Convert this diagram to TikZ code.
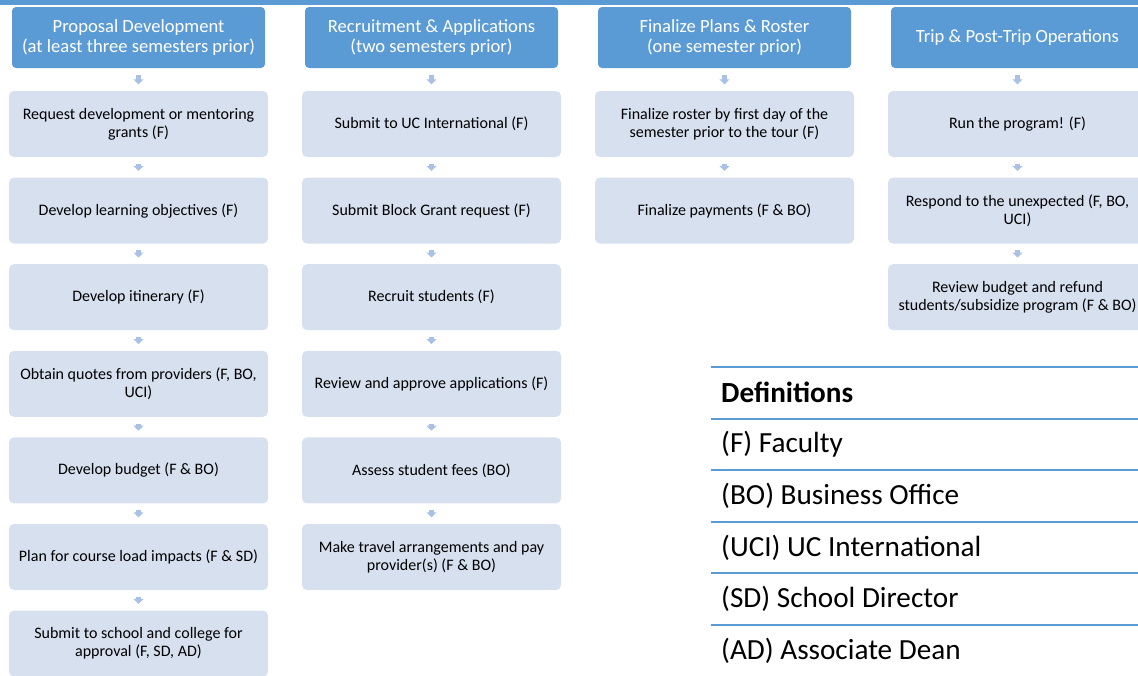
\documentclass[tikz,border=0pt]{standalone}
\usepackage{fontspec}
\setmainfont{Carlito}
\usetikzlibrary{arrows.meta}
\definecolor{hdrBlue}{RGB}{91,155,213}
\definecolor{stepFill}{RGB}{214,224,239}
\definecolor{arrowBlue}{RGB}{168,193,228}

\tikzset{
  hdr/.style={fill=hdrBlue, rounded corners=4pt, minimum width=253pt, minimum height=61pt,
    inner sep=0pt, align=center, text=white, font=\fontsize{18.6}{20.5}\selectfont},
  stepbox/.style={fill=stepFill, rounded corners=5pt, minimum width=259pt, minimum height=66pt,
    inner sep=0pt, align=center, font=\fontsize{16}{18}\selectfont},
  flow/.style={arrowBlue, line width=5pt, -{Triangle[width=10pt,length=5pt]},
    shorten <=6.5pt, shorten >=6.5pt},
  defline/.style={hdrBlue, line width=2pt},
  deftext/.style={anchor=west, inner sep=0pt, font=\fontsize{29.2}{33}\selectfont}
}

\begin{document}
\begin{tikzpicture}[x=1pt, y=-1pt]
  \clip (0,0) rectangle (1138,675);
  \fill[hdrBlue] (0,0) rectangle (1138,4.5);

  % column headers
  \node[hdr] (h1) at (138.5,37.5) {Proposal Development\\(at least three semesters prior)};
  \node[hdr] (h2) at (431.5,37.5) {Recruitment \& Applications\\(two semesters prior)};
  \node[hdr] (h3) at (724.5,37.5) {Finalize Plans \& Roster\\(one semester prior)};
  \node[hdr] (h4) at (1017.5,37.5) {Trip \& Post-Trip Operations};

  % steps, one column at a time
  \foreach \txt [count=\i] in {
      {Request development or mentoring\\grants (F)},
      {Develop learning objectives (F)},
      {Develop itinerary (F)},
      {Obtain quotes from providers (F, BO,\\UCI)},
      {Develop budget (F \& BO)},
      {Plan for course load impacts (F \& SD)},
      {Submit to school and college for\\approval (F, SD, AD)}}
    \node[stepbox] (a\i) at (138.5,{124+86.6*(\i-1)}) {\txt};

  \foreach \txt [count=\i] in {
      {Submit to UC International (F)},
      {Submit Block Grant request (F)},
      {Recruit students (F)},
      {Review and approve applications (F)},
      {Assess student fees (BO)},
      {Make travel arrangements and pay\\provider(s) (F \& BO)}}
    \node[stepbox] (b\i) at (431.5,{124+86.6*(\i-1)}) {\txt};

  \foreach \txt [count=\i] in {
      {Finalize roster by first day of the\\semester prior to the tour (F)},
      {Finalize payments (F \& BO)}}
    \node[stepbox] (c\i) at (724.5,{124+86.6*(\i-1)}) {\txt};

  \foreach \txt [count=\i] in {
      {Run the program! (F)},
      {Respond to the unexpected (F, BO,\\UCI)},
      {Review budget and refund\\students/subsidize program (F \& BO)}}
    \node[stepbox] (d\i) at (1017.5,{124+86.6*(\i-1)}) {\txt};

  % small block arrows
  \draw[flow] (h1) -- (a1);
  \draw[flow] (h2) -- (b1);
  \draw[flow] (h3) -- (c1);
  \draw[flow] (h4) -- (d1);
  \foreach \i [evaluate=\i as \j using int(\i+1)] in {1,...,6}
    \draw[flow] (a\i) -- (a\j);
  \foreach \i [evaluate=\i as \j using int(\i+1)] in {1,...,5}
    \draw[flow] (b\i) -- (b\j);
  \draw[flow] (c1) -- (c2);
  \draw[flow] (d1) -- (d2);
  \draw[flow] (d2) -- (d3);

  % definitions table
  \foreach \y in {367,418.6,470.2,521.8,573.4,625}
    \draw[defline] (711,\y) -- (1138,\y);
  \node[deftext, font=\fontsize{29.2}{33}\selectfont\bfseries] (def0) at (721,392.8) {Definitions};
  \foreach \txt [count=\i] in {(F) Faculty, (BO) Business Office, (UCI) UC International,
      (SD) School Director, (AD) Associate Dean}
    \node[deftext] (def\i) at (721,{392.8+51.6*\i}) {\txt};
\end{tikzpicture}
\end{document}
